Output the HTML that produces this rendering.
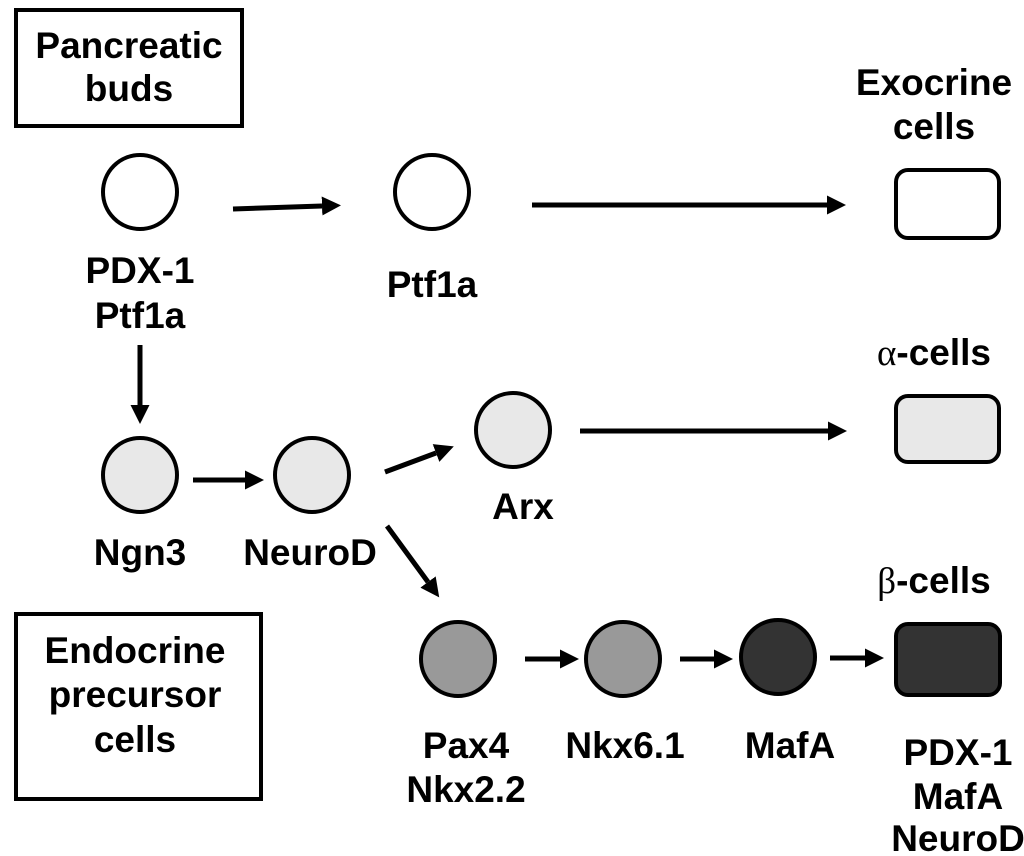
<!DOCTYPE html>
<html><head><style>body{margin:0;background:#fff}svg{display:block}text{font-family:"Liberation Sans",Arial,sans-serif;font-weight:bold;font-size:37px;text-anchor:middle;fill:#000}.g{font-family:"Liberation Serif",serif;font-weight:normal}</style></head>
<body>
<svg width="1024" height="856" viewBox="0 0 1024 856">
<defs><marker id="a" markerWidth="4" markerHeight="4" refX="0" refY="2" orient="auto" markerUnits="strokeWidth"><path d="M0,0.1 L3.8,2 L0,3.9 Z" fill="#000"/></marker></defs>
<g stroke="#000" stroke-width="4" fill="none">
<rect x="16" y="10" width="226" height="116"/>
<rect x="16" y="614" width="245" height="185"/>
</g>
<g stroke="#000" stroke-width="4">
<circle cx="140" cy="192" r="37" fill="#fff"/>
<circle cx="432" cy="192" r="37" fill="#fff"/>
<circle cx="140" cy="475" r="37" fill="#e8e8e8"/>
<circle cx="312" cy="475" r="37" fill="#e8e8e8"/>
<circle cx="513" cy="430" r="37" fill="#e8e8e8"/>
<circle cx="458" cy="659" r="37" fill="#999"/>
<circle cx="623" cy="659" r="37" fill="#999"/>
<circle cx="778" cy="657" r="37" fill="#333"/>
<rect x="896" y="170" width="103" height="68" rx="12" fill="#fff"/>
<rect x="896" y="396" width="103" height="66" rx="12" fill="#e8e8e8"/>
<rect x="896" y="624" width="104" height="71" rx="12" fill="#333"/>
</g>
<g stroke="#000" stroke-width="5" marker-end="url(#a)">
<line x1="233" y1="209" x2="322" y2="206"/>
<line x1="532" y1="205" x2="827" y2="205"/>
<line x1="140" y1="345" x2="140" y2="405"/>
<line x1="193" y1="480" x2="245" y2="480"/>
<line x1="385" y1="472" x2="436" y2="453"/>
<line x1="580" y1="431" x2="828" y2="431"/>
<line x1="387" y1="526" x2="428" y2="582"/>
<line x1="525" y1="659" x2="560" y2="659"/>
<line x1="680" y1="659" x2="714" y2="659"/>
<line x1="830" y1="658" x2="865" y2="658"/>
</g>
<text x="129" y="58">Pancreatic</text>
<text x="129" y="101">buds</text>
<text x="934" y="95">Exocrine</text>
<text x="934" y="139">cells</text>
<text x="140" y="283">PDX-1</text>
<text x="140" y="328">Ptf1a</text>
<text x="432" y="297">Ptf1a</text>
<text x="934" y="365"><tspan class="g">α</tspan>-cells</text>
<text x="523" y="519">Arx</text>
<text x="140" y="565">Ngn3</text>
<text x="310" y="565">NeuroD</text>
<text x="934" y="593"><tspan class="g">β</tspan>-cells</text>
<text x="135" y="663">Endocrine</text>
<text x="135" y="707">precursor</text>
<text x="135" y="752">cells</text>
<text x="466" y="758">Pax4</text>
<text x="466" y="802">Nkx2.2</text>
<text x="625" y="758">Nkx6.1</text>
<text x="790" y="758">MafA</text>
<text x="958" y="765">PDX-1</text>
<text x="958" y="809">MafA</text>
<text x="958" y="851">NeuroD</text>
</svg>
</body></html>
